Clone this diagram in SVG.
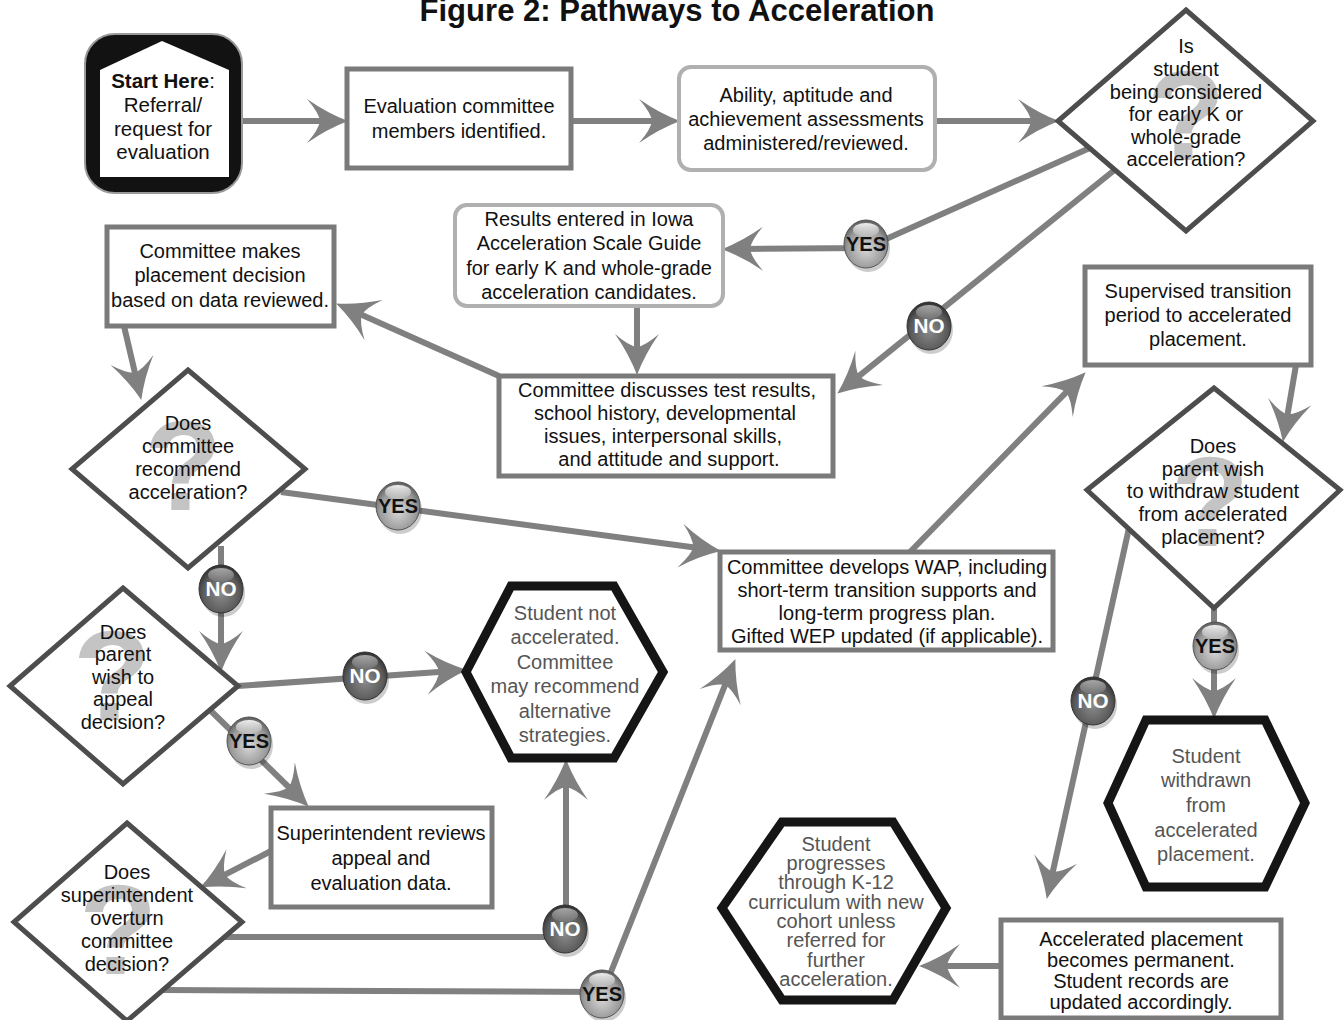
<svg xmlns="http://www.w3.org/2000/svg" width="1344" height="1020" viewBox="0 0 1344 1020">
<style>
.t{font-family:"Liberation Sans",Arial,sans-serif;font-size:20px;fill:#111;text-anchor:middle}
.hx{font-family:"Liberation Sans",Arial,sans-serif;font-size:20px;fill:#555;text-anchor:middle}
.box{fill:#fff;stroke:#7a7a7a;stroke-width:5}
.rbox{fill:#fff;stroke:#b0b0b0;stroke-width:4}
.dia{fill:#fff;stroke:#4d4d4d;stroke-width:5;stroke-linejoin:miter}
.hex{fill:#fff;stroke:#151515;stroke-width:9;stroke-linejoin:miter}
.q{font-family:"Liberation Sans",Arial,sans-serif;font-weight:bold;font-size:128px;fill:#c4c4c4;text-anchor:middle}
.c{fill:none;stroke:#808080;stroke-width:6;marker-end:url(#ah)}
.by{font-family:"Liberation Sans",Arial,sans-serif;font-weight:bold;font-size:20px;fill:#111;text-anchor:middle}
.bn{font-family:"Liberation Sans",Arial,sans-serif;font-weight:bold;font-size:20px;fill:#fff;text-anchor:middle}
</style>
<defs>
<marker id="ah" markerUnits="userSpaceOnUse" markerWidth="42" markerHeight="46" viewBox="0 0 42 46" refX="20" refY="23" orient="auto">
<path d="M41 23 Q20 15 0 1 Q12 15 13 23 Q12 31 0 45 Q20 31 41 23 Z" fill="#808080"/>
</marker>
<radialGradient id="gy" cx="50%" cy="60%" r="60%">
<stop offset="0" stop-color="#d8d8d8"/><stop offset="0.7" stop-color="#9a9a9a"/><stop offset="1" stop-color="#5a5a5a"/>
</radialGradient>
<radialGradient id="gn" cx="50%" cy="60%" r="60%">
<stop offset="0" stop-color="#8a8a8a"/><stop offset="0.7" stop-color="#5a5a5a"/><stop offset="1" stop-color="#2e2e2e"/>
</radialGradient>
<linearGradient id="hl" x1="0" y1="0" x2="0" y2="1">
<stop offset="0" stop-color="#fff" stop-opacity="0.9"/><stop offset="1" stop-color="#fff" stop-opacity="0.1"/>
</linearGradient>
</defs>

<text x="677" y="21" font-family="'Liberation Sans',Arial,sans-serif" font-weight="bold" font-size="31" fill="#111" text-anchor="middle" textLength="515" lengthAdjust="spacingAndGlyphs">Figure 2: Pathways to Acceleration</text>

<g id="connectors">
<path class="c" d="M241 121 L327 121"/>
<path class="c" d="M571 121 L659 121"/>
<path class="c" d="M935 121 L1038 121"/>
<path class="c" d="M1092 147 L866 248 L743 249"/>
<path class="c" d="M1117 168 L853.6 380.4"/>
<path class="c" d="M637 306 L637 354"/>
<path class="c" d="M499 376 L355.3 312.1"/>
<path class="c" d="M124 326 L136.5 379.5"/>
<path class="c" d="M281 492 L700.2 548.3"/>
<path class="c" d="M221 546 L221 651"/>
<path class="c" d="M238 686 L446 671.4"/>
<path class="c" d="M210 710 L293.7 792"/>
<path class="c" d="M271 851 L218.8 877.9"/>
<path class="c" d="M225 937 L566 937 L566 780"/>
<path class="c" d="M163 990 L603 992 L727.6 678.6"/>
<path class="c" d="M910 552 L1071 387.3"/>
<path class="c" d="M1296 365 L1286.4 421.3"/>
<path class="c" d="M1214 608 L1214 698"/>
<path class="c" d="M1129 528 L1051.3 878.5"/>
<path class="c" d="M1001 966 L940 966"/>
</g>

<g id="start">
<rect x="85" y="34" width="157" height="159" rx="30" fill="#121212" stroke="#9a9a9a" stroke-width="2"/>
<polygon points="162,41 229,70 229,177 100,177 100,70" fill="#fff"/>
<text class="t" x="163" y="88" style="font-size:20.5px"><tspan font-weight="bold">Start Here</tspan>:</text>
<text class="t" x="163" y="112" style="font-size:20.5px">Referral/</text>
<text class="t" x="163" y="136" style="font-size:20.5px">request for</text>
<text class="t" x="163" y="159" style="font-size:20.5px">evaluation</text>
</g>

<g id="eval-committee">
<rect class="box" x="347" y="69" width="224" height="99"/>
<text class="t" x="459" y="113">Evaluation committee</text>
<text class="t" x="459" y="138">members identified.</text>
</g>

<g id="assessments">
<rect class="rbox" x="679" y="67" width="256" height="103" rx="12"/>
<text class="t" x="806" y="102">Ability, aptitude and</text>
<text class="t" x="806" y="126">achievement assessments</text>
<text class="t" x="806" y="150">administered/reviewed.</text>
</g>

<g id="q-early-k">
<polygon class="dia" points="1186,10 1313,121 1186,231 1058,121"/>
<text class="q" x="1186" y="160">?</text>
<text class="t" x="1186" y="53">Is</text>
<text class="t" x="1186" y="76">student</text>
<text class="t" x="1186" y="99">being considered</text>
<text class="t" x="1186" y="121">for early K or</text>
<text class="t" x="1186" y="144">whole-grade</text>
<text class="t" x="1186" y="166">acceleration?</text>
</g>

<g id="results-iowa">
<rect class="rbox" x="455" y="205" width="268" height="101" rx="12"/>
<text class="t" x="589" y="226">Results entered in Iowa</text>
<text class="t" x="589" y="250">Acceleration Scale Guide</text>
<text class="t" x="589" y="275">for early K and whole-grade</text>
<text class="t" x="589" y="299">acceleration candidates.</text>
</g>

<g id="committee-discusses">
<rect class="box" x="499" y="376" width="334" height="100"/>
<text class="t" x="667" y="397">Committee discusses test results,</text>
<text class="t" x="665" y="420">school history, developmental</text>
<text class="t" x="663" y="443">issues, interpersonal skills,</text>
<text class="t" x="669" y="466">and attitude and support.</text>
</g>

<g id="committee-decision">
<rect class="box" x="107" y="227" width="227" height="99"/>
<text class="t" x="220" y="258">Committee makes</text>
<text class="t" x="220" y="282">placement decision</text>
<text class="t" x="220" y="307">based on data reviewed.</text>
</g>

<g id="q-recommend">
<polygon class="dia" points="188,370 305,469 188,568 72,469"/>
<text class="q" x="183" y="510">?</text>
<text class="t" x="188" y="430">Does</text>
<text class="t" x="188" y="453">committee</text>
<text class="t" x="188" y="476">recommend</text>
<text class="t" x="188" y="499">acceleration?</text>
</g>

<g id="q-appeal">
<polygon class="dia" points="123,588 238,686 123,784 10,686"/>
<text class="q" x="112" y="720">?</text>
<text class="t" x="123" y="639">Does</text>
<text class="t" x="123" y="661">parent</text>
<text class="t" x="123" y="684">wish to</text>
<text class="t" x="123" y="706">appeal</text>
<text class="t" x="123" y="729">decision?</text>
</g>

<g id="not-accelerated">
<polygon class="hex" points="466,672 511,586 614,586 663,672 614,758 511,758"/>
<text class="hx" x="565" y="620">Student not</text>
<text class="hx" x="565" y="644">accelerated.</text>
<text class="hx" x="565" y="669">Committee</text>
<text class="hx" x="565" y="693">may recommend</text>
<text class="hx" x="565" y="718">alternative</text>
<text class="hx" x="565" y="742">strategies.</text>
</g>

<g id="superintendent-reviews">
<rect class="box" x="271" y="808" width="221" height="99"/>
<text class="t" x="381" y="840">Superintendent reviews</text>
<text class="t" x="381" y="865">appeal and</text>
<text class="t" x="381" y="890">evaluation data.</text>
</g>

<g id="q-overturn">
<polygon class="dia" points="127,823 242,922 127,1021 14,922"/>
<text class="q" x="118" y="974">?</text>
<text class="t" x="127" y="879">Does</text>
<text class="t" x="127" y="902">superintendent</text>
<text class="t" x="127" y="925">overturn</text>
<text class="t" x="127" y="948">committee</text>
<text class="t" x="127" y="971">decision?</text>
</g>

<g id="wap">
<rect class="box" x="720" y="552" width="333" height="98"/>
<text class="t" x="887" y="574">Committee develops WAP, including</text>
<text class="t" x="887" y="597">short-term transition supports and</text>
<text class="t" x="887" y="620">long-term progress plan.</text>
<text class="t" x="887" y="643">Gifted WEP updated (if applicable).</text>
</g>

<g id="supervised-transition">
<rect class="box" x="1085" y="267" width="226" height="98"/>
<text class="t" x="1198" y="298">Supervised transition</text>
<text class="t" x="1198" y="322">period to accelerated</text>
<text class="t" x="1198" y="346">placement.</text>
</g>

<g id="q-withdraw">
<polygon class="dia" points="1214,388 1340,490 1214,608 1087,490"/>
<text class="q" x="1210" y="546">?</text>
<text class="t" x="1213" y="453">Does</text>
<text class="t" x="1213" y="476">parent wish</text>
<text class="t" x="1213" y="498">to withdraw student</text>
<text class="t" x="1213" y="521">from accelerated</text>
<text class="t" x="1213" y="544">placement?</text>
</g>

<g id="withdrawn">
<polygon class="hex" points="1108,803 1146,720 1265,720 1305,803 1265,887 1146,887"/>
<text class="hx" x="1206" y="763">Student</text>
<text class="hx" x="1206" y="787">withdrawn</text>
<text class="hx" x="1206" y="812">from</text>
<text class="hx" x="1206" y="837">accelerated</text>
<text class="hx" x="1206" y="861">placement.</text>
</g>

<g id="permanent">
<rect class="box" x="1001" y="920" width="280" height="98"/>
<text class="t" x="1141" y="946">Accelerated placement</text>
<text class="t" x="1141" y="967">becomes permanent.</text>
<text class="t" x="1141" y="988">Student records are</text>
<text class="t" x="1141" y="1009">updated accordingly.</text>
</g>

<g id="progresses">
<polygon class="hex" points="722,908 782,822 893,822 946,908 893,1000 782,1000"/>
<text class="hx" x="836" y="851">Student</text>
<text class="hx" x="836" y="870">progresses</text>
<text class="hx" x="836" y="889">through K-12</text>
<text class="hx" x="836" y="909">curriculum with new</text>
<text class="hx" x="836" y="928">cohort unless</text>
<text class="hx" x="836" y="947">referred for</text>
<text class="hx" x="836" y="967">further</text>
<text class="hx" x="836" y="986">acceleration.</text>
</g>

<g id="badges">
<g id="yes-1" transform="translate(866,244)"><ellipse cx="2" cy="4" rx="22" ry="24" fill="#000" opacity="0.2"/><ellipse rx="22" ry="24" fill="url(#gy)" stroke="#555" stroke-width="1"/><ellipse cy="-14" rx="13" ry="7" fill="url(#hl)"/><text class="by" y="7" textLength="40" lengthAdjust="spacingAndGlyphs">YES</text></g>
<g id="no-1" transform="translate(929,326)"><ellipse cx="2" cy="4" rx="22" ry="24" fill="#000" opacity="0.2"/><ellipse rx="22" ry="24" fill="url(#gn)" stroke="#333" stroke-width="1"/><ellipse cy="-14" rx="13" ry="7" fill="url(#hl)" opacity="0.6"/><text class="bn" y="7" textLength="31" lengthAdjust="spacingAndGlyphs">NO</text></g>
<g id="yes-2" transform="translate(398,506)"><ellipse cx="2" cy="4" rx="22" ry="24" fill="#000" opacity="0.2"/><ellipse rx="22" ry="24" fill="url(#gy)" stroke="#555" stroke-width="1"/><ellipse cy="-14" rx="13" ry="7" fill="url(#hl)"/><text class="by" y="7" textLength="40" lengthAdjust="spacingAndGlyphs">YES</text></g>
<g id="no-2" transform="translate(221,589)"><ellipse cx="2" cy="4" rx="22" ry="24" fill="#000" opacity="0.2"/><ellipse rx="22" ry="24" fill="url(#gn)" stroke="#333" stroke-width="1"/><ellipse cy="-14" rx="13" ry="7" fill="url(#hl)" opacity="0.6"/><text class="bn" y="7" textLength="31" lengthAdjust="spacingAndGlyphs">NO</text></g>
<g id="no-3" transform="translate(365,676)"><ellipse cx="2" cy="4" rx="22" ry="24" fill="#000" opacity="0.2"/><ellipse rx="22" ry="24" fill="url(#gn)" stroke="#333" stroke-width="1"/><ellipse cy="-14" rx="13" ry="7" fill="url(#hl)" opacity="0.6"/><text class="bn" y="7" textLength="31" lengthAdjust="spacingAndGlyphs">NO</text></g>
<g id="yes-3" transform="translate(249,741)"><ellipse cx="2" cy="4" rx="22" ry="24" fill="#000" opacity="0.2"/><ellipse rx="22" ry="24" fill="url(#gy)" stroke="#555" stroke-width="1"/><ellipse cy="-14" rx="13" ry="7" fill="url(#hl)"/><text class="by" y="7" textLength="40" lengthAdjust="spacingAndGlyphs">YES</text></g>
<g id="no-4" transform="translate(565,929)"><ellipse cx="2" cy="4" rx="22" ry="24" fill="#000" opacity="0.2"/><ellipse rx="22" ry="24" fill="url(#gn)" stroke="#333" stroke-width="1"/><ellipse cy="-14" rx="13" ry="7" fill="url(#hl)" opacity="0.6"/><text class="bn" y="7" textLength="31" lengthAdjust="spacingAndGlyphs">NO</text></g>
<g id="yes-4" transform="translate(602,994)"><ellipse cx="2" cy="4" rx="22" ry="24" fill="#000" opacity="0.2"/><ellipse rx="22" ry="24" fill="url(#gy)" stroke="#555" stroke-width="1"/><ellipse cy="-14" rx="13" ry="7" fill="url(#hl)"/><text class="by" y="7" textLength="40" lengthAdjust="spacingAndGlyphs">YES</text></g>
<g id="yes-5" transform="translate(1215,646)"><ellipse cx="2" cy="4" rx="22" ry="24" fill="#000" opacity="0.2"/><ellipse rx="22" ry="24" fill="url(#gy)" stroke="#555" stroke-width="1"/><ellipse cy="-14" rx="13" ry="7" fill="url(#hl)"/><text class="by" y="7" textLength="40" lengthAdjust="spacingAndGlyphs">YES</text></g>
<g id="no-5" transform="translate(1093,701)"><ellipse cx="2" cy="4" rx="22" ry="24" fill="#000" opacity="0.2"/><ellipse rx="22" ry="24" fill="url(#gn)" stroke="#333" stroke-width="1"/><ellipse cy="-14" rx="13" ry="7" fill="url(#hl)" opacity="0.6"/><text class="bn" y="7" textLength="31" lengthAdjust="spacingAndGlyphs">NO</text></g>
</g>
</svg>
